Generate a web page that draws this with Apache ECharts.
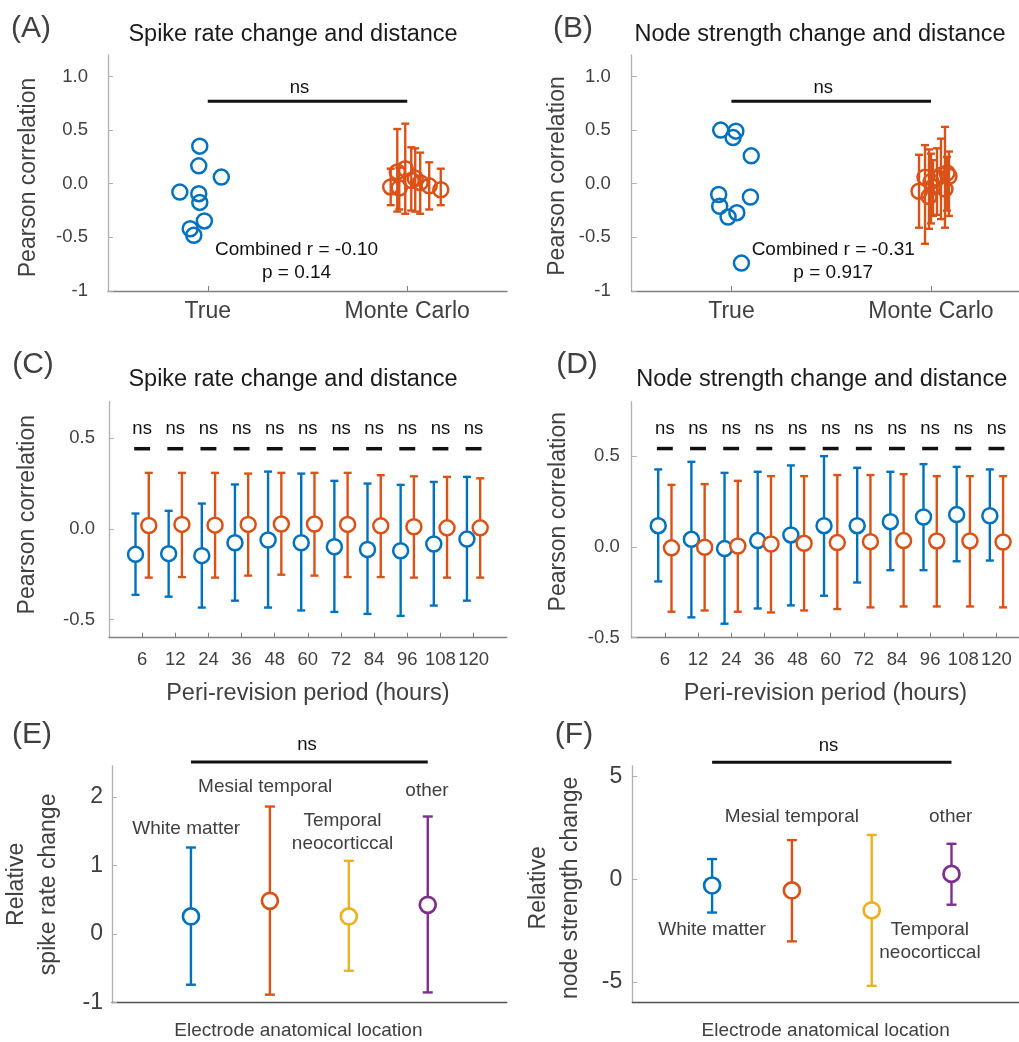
<!DOCTYPE html>
<html>
<head>
<meta charset="utf-8">
<script src="https://cdn.jsdelivr.net/npm/echarts@6/dist/echarts.min.js"></script>
<style>
html,body{margin:0;padding:0;background:#fff;}
#chart{width:1019px;height:1042px;}
</style>
</head>
<body>
<div id="chart"></div>
<script>
// ---------------- DATA ----------------
const groupLabels = ['True', 'Monte Carlo'];
const abYTicks = [-1, -0.5, 0, 0.5, 1];
const abYLabels = ['-1', '-0.5', '0.0', '0.5', '1.0'];

// Panel A
const aTrueX = [0.96, 0.955, 1.068, 0.86, 0.955, 0.96, 0.983, 0.912, 0.93];
const aTrueR = [0.35, 0.167, 0.062, -0.078, -0.093, -0.174, -0.347, -0.42, -0.48];
const aMcX = [1.917, 1.95, 1.96, 1.99, 2.02, 2.04, 2.065, 2.11, 2.168];
const aMcR = [-0.03, 0.11, -0.04, 0.14, 0.03, 0.05, 0.01, -0.02, -0.056];
const aMcLo = [-0.20, -0.26, -0.24, -0.28, -0.25, -0.26, -0.28, -0.24, -0.20];
const aMcHi = [0.14, 0.51, 0.15, 0.56, 0.34, 0.33, 0.29, 0.20, 0.14];
const aStatText = 'Combined r = -0.10\np = 0.14';

// Panel B
const bTrueX = [0.946, 1.022, 1.008, 1.099, 0.936, 1.095, 0.941, 1.027, 0.983, 1.05];
const bTrueR = [0.50, 0.49, 0.43, 0.26, -0.10, -0.124, -0.21, -0.27, -0.31, -0.74];
const bMcX = [1.94, 1.97, 1.99, 2.00, 2.01, 2.03, 2.05, 2.07, 2.08, 2.09];
const bMcR = [-0.07, 0.06, -0.12, 0.02, -0.03, 0.05, 0.08, -0.05, 0.10, 0.07];
const bMcLo = [-0.41, -0.56, -0.42, -0.37, -0.30, -0.29, -0.33, -0.41, -0.25, -0.30];
const bMcHi = [0.27, 0.36, 0.32, 0.28, 0.22, 0.33, 0.42, 0.53, 0.25, 0.30];
const bStatText = 'Combined r = -0.31\np = 0.917';

// Panels C, D
const periods = ['6', '12', '24', '36', '48', '60', '72', '84', '96', '108', '120'];
const periodPos = [1, 2, 3, 4, 5, 6, 7, 8, 9, 10, 11];
const cdYTicks = [-0.5, 0, 0.5];
const cdYLabels = ['-0.5', '0.0', '0.5'];

const cTrueMean = [-0.141, -0.137, -0.148, -0.077, -0.062, -0.077, -0.099, -0.114, -0.121, -0.084, -0.057];
const cTrueLo = [-0.364, -0.374, -0.434, -0.396, -0.434, -0.45, -0.458, -0.469, -0.48, -0.423, -0.396];
const cTrueHi = [0.084, 0.099, 0.139, 0.244, 0.315, 0.304, 0.264, 0.249, 0.242, 0.258, 0.286];
const cMcMean = [0.018, 0.024, 0.02, 0.024, 0.026, 0.026, 0.024, 0.016, 0.011, 0.005, 0.005];
const cMcLo = [-0.269, -0.266, -0.269, -0.258, -0.253, -0.258, -0.266, -0.266, -0.269, -0.269, -0.269];
const cMcHi = [0.308, 0.308, 0.308, 0.304, 0.308, 0.308, 0.308, 0.295, 0.289, 0.286, 0.278];

const dTrueMean = [0.117, 0.042, -0.009, 0.035, 0.066, 0.117, 0.117, 0.139, 0.165, 0.178, 0.172];
const dTrueLo = [-0.19, -0.388, -0.423, -0.339, -0.322, -0.269, -0.196, -0.128, -0.128, -0.079, -0.075];
const dTrueHi = [0.427, 0.469, 0.408, 0.414, 0.449, 0.5, 0.436, 0.414, 0.456, 0.441, 0.427];
const dMcMean = [-0.005, -0.002, 0.005, 0.016, 0.02, 0.024, 0.029, 0.035, 0.033, 0.033, 0.027];
const dMcLo = [-0.357, -0.35, -0.357, -0.361, -0.35, -0.342, -0.333, -0.328, -0.328, -0.328, -0.333];
const dMcHi = [0.342, 0.346, 0.364, 0.39, 0.39, 0.396, 0.396, 0.401, 0.39, 0.39, 0.39];

// Panels E, F
const regions = ['White matter', 'Mesial temporal', 'Temporal\nneocorticcal', 'other'];
const regionPos = [1, 2, 3, 4];
const eYTicks = [-1, 0, 1, 2];
const fYTicks = [-5, 0, 5];
const eMean = [0.257, 0.485, 0.257, 0.427];
const eLo = [-0.738, -0.883, -0.534, -0.85];
const eHi = [1.262, 1.859, 1.068, 1.714];
const eLabelX = [0.94, 1.94, 2.92, 3.99];
const eLabelY = [1.54, 2.15, 1.49, 2.09];
const fMean = [-0.305, -0.547, -1.51, 0.257];
const fLo = [-1.62, -3.02, -5.18, -1.24];
const fHi = [0.98, 1.9, 2.15, 1.72];
const fLabelX = [1.0, 2.0, 3.73, 3.99];
const fLabelY = [-2.45, 3.02, -3.03, 3.02];

// ---------------- STYLE ----------------
const FONT = "'Liberation Sans', Arial, Helvetica, sans-serif";
const BLUE = '#0072BD', ORANGE = '#D95319', YELLOW = '#EDB120', PURPLE = '#7E2F8E';
const regionColors = [BLUE, ORANGE, YELLOW, PURPLE];
const YAXIS = '#b0b0b0';
const TXT = '#404040';

// ---------------- HELPERS ----------------
function errSeries(g, xs, lo, hi, color, capHalf) {
  return {
    type: 'custom', xAxisIndex: g, yAxisIndex: g, z: 3,
    itemStyle: { color: color },
    data: xs.map((x, i) => [x, lo[i], hi[i]]),
    encode: { x: 0, y: [1, 2] },
    renderItem: function (params, api) {
      const x = api.value(0), l = api.value(1), h = api.value(2);
      const pL = api.coord([x, l]), pH = api.coord([x, h]);
      const st = { stroke: color, lineWidth: 2.4 };
      return {
        type: 'group', children: [
          { type: 'line', shape: { x1: pL[0], y1: pL[1], x2: pH[0], y2: pH[1] }, style: st },
          { type: 'line', shape: { x1: pL[0] - capHalf, y1: pL[1], x2: pL[0] + capHalf, y2: pL[1] }, style: st },
          { type: 'line', shape: { x1: pH[0] - capHalf, y1: pH[1], x2: pH[0] + capHalf, y2: pH[1] }, style: st }
        ]
      };
    }
  };
}
function circleSeries(g, xs, ys, color, fill) {
  return {
    type: 'scatter', xAxisIndex: g, yAxisIndex: g, z: 4,
    symbol: 'circle', symbolSize: 15,
    itemStyle: { color: fill, borderColor: color, borderWidth: 2.5, opacity: 1 },
    data: xs.map((x, i) => [x, ys[i]])
  };
}
function multiColorCircles(g, xs, ys, colors) {
  return {
    type: 'scatter', xAxisIndex: g, yAxisIndex: g, z: 4,
    symbol: 'circle', symbolSize: 16,
    itemStyle: { color: '#fff', borderWidth: 2.7, opacity: 1 },
    data: xs.map((x, i) => ({ value: [x, ys[i]], itemStyle: { color: '#fff', borderColor: colors[i], borderWidth: 2.7, opacity: 1 } }))
  };
}
function textSeries(g, xs, ys, texts, size, color, lh) {
  return {
    type: 'custom', xAxisIndex: g, yAxisIndex: g, z: 5, clip: false,
    data: xs.map((x, i) => [x, ys[i]]),
    renderItem: function (params, api) {
      const p = api.coord([api.value(0), api.value(1)]);
      return {
        type: 'text', x: p[0], y: p[1],
        style: {
          text: texts[params.dataIndex], fill: color,
          font: size + 'px ' + FONT, align: 'center', verticalAlign: 'middle',
          textAlign: 'center', textVerticalAlign: 'middle', lineHeight: lh || size
        }
      };
    }
  };
}
function barSeries(g, x1, x2, y, w) {
  return {
    type: 'line', xAxisIndex: g, yAxisIndex: g, z: 5, clip: false,
    symbol: 'none', silent: true,
    lineStyle: { color: '#111', width: w },
    data: [[x1, y], [x2, y]]
  };
}
function dashSeries(g, xs, y, half) {
  return {
    type: 'custom', xAxisIndex: g, yAxisIndex: g, z: 5, clip: false,
    data: xs.map(x => [x, y]),
    renderItem: function (params, api) {
      const a = api.coord([api.value(0) - half, api.value(1)]);
      const b = api.coord([api.value(0) + half, api.value(1)]);
      return { type: 'line', shape: { x1: a[0], y1: a[1], x2: b[0], y2: b[1] }, style: { stroke: '#111', lineWidth: 3.5 } };
    }
  };
}
function shift(arr, d) { return arr.map(v => v + d); }

function xAxisCfg(g, min, max, ticks, labels, fs, margin, axisColor, name, nameSize, nameGap, namePad) {
  return {
    type: 'value', gridIndex: g, min: min, max: max,
    axisLine: { show: true, onZero: false, lineStyle: { color: axisColor, width: 1.3 } },
    axisTick: { show: !!ticks, inside: true, length: 5, customValues: ticks || [], lineStyle: { color: axisColor } },
    axisLabel: {
      show: !!ticks, customValues: ticks || [], margin: margin, color: TXT, fontSize: fs, fontFamily: FONT,
      formatter: function (v) { const i = ticks.indexOf(v); return i >= 0 ? labels[i] : ''; }
    },
    splitLine: { show: false },
    name: name || '', nameLocation: 'middle', nameGap: nameGap || 0,
    nameTextStyle: { color: TXT, fontSize: nameSize || 20, fontFamily: FONT, padding: namePad || 0 }
  };
}
function yAxisCfg(g, min, max, ticks, labels, fs, margin, name, nameGap, pad, lh) {
  return {
    type: 'value', gridIndex: g, min: min, max: max,
    axisLine: { show: true, onZero: false, lineStyle: { color: YAXIS, width: 1.3 } },
    axisTick: { show: true, inside: true, length: 5, customValues: ticks, lineStyle: { color: YAXIS } },
    axisLabel: {
      customValues: ticks, margin: margin, color: TXT, fontSize: fs, fontFamily: FONT,
      formatter: function (v) { const i = ticks.indexOf(v); return i >= 0 ? labels[i] : ''; }
    },
    splitLine: { show: false },
    name: name, nameLocation: 'middle', nameRotate: 90, nameGap: nameGap,
    nameTextStyle: { color: TXT, fontSize: 23, fontFamily: FONT, lineHeight: lh || 23, padding: pad }
  };
}
function txt(x, y, text, size, color) {
  return {
    type: 'text', x: x, y: y, silent: true,
    style: { text: text, fill: color, font: size + 'px ' + FONT, align: 'center', verticalAlign: 'middle', textAlign: 'center', textVerticalAlign: 'middle' }
  };
}

// ---------------- OPTION ----------------
const grids = [
  { left: 108, top: 55, width: 399, height: 236 },
  { left: 631.7, top: 55, right: 0, height: 236 },
  { left: 109, top: 401.7, width: 397.7, height: 236 },
  { left: 631.7, top: 401.7, right: 0, height: 236 },
  { left: 109, top: 766, width: 397.7, height: 236.7 },
  { left: 632.3, top: 766, right: 0, height: 236.7 }
];

const xAxes = [
  xAxisCfg(0, 0.5, 2.5, [1, 2], groupLabels, 23, 9, '#808080'),
  xAxisCfg(1, 0.5, 2.441, [1, 2], groupLabels, 23, 9, '#808080'),
  xAxisCfg(2, 0, 12, periodPos, periods, 18.5, 13, '#808080', 'Peri-revision period (hours)', 23.5, 44),
  xAxisCfg(3, 0, 11.68, periodPos, periods, 18.5, 13, '#808080', 'Peri-revision period (hours)', 23.5, 44, [0, 0, 0, 0]),
  xAxisCfg(4, 0, 5, null, null, 18, 8, '#505050', 'Electrode anatomical location', 19, 19, [0, 22, 0, 0]),
  xAxisCfg(5, 0, 4.846, null, null, 18, 8, '#505050', 'Electrode anatomical location', 19, 19, [0, 0, 0, 0])
];
const yAxes = [
  yAxisCfg(0, -1, 1.2, abYTicks, abYLabels, 18.5, 20, 'Pearson correlation', 68, [0, 9, 0, 0]),
  yAxisCfg(1, -1, 1.2, abYTicks, abYLabels, 18.5, 21, 'Pearson correlation', 63, [0, 6, 0, 0]),
  yAxisCfg(2, -0.6, 0.7, cdYTicks, cdYLabels, 18.5, 14, 'Pearson correlation', 70, [0, 0, 0, 10]),
  yAxisCfg(3, -0.5, 0.8, cdYTicks, cdYLabels, 18.5, 12, 'Pearson correlation', 62, [0, 0, 0, 16]),
  yAxisCfg(4, -1, 2.45, eYTicks, eYTicks.map(String), 23, 9, 'Relative\nspike rate change', 47, [0, 0, 0, 0], 32),
  yAxisCfg(5, -6, 5.5, fYTicks, fYTicks.map(String), 23, 10, 'Relative\nnode strength change', 46, [0, 7, 0, 0], 32)
];

const series = [
  // A
  barSeries(0, 1, 2, 0.77, 3),
  textSeries(0, [1.46], [0.89], ['ns'], 18.5, '#111'),
  circleSeries(0, aTrueX, aTrueR, BLUE, 'rgba(0,0,0,0)'),
  errSeries(0, aMcX, aMcLo, aMcHi, ORANGE, 4),
  circleSeries(0, aMcX, aMcR, ORANGE, 'rgba(0,0,0,0)'),
  textSeries(0, [1.445], [-0.725], [aStatText], 19, '#111', 23),
  // B
  barSeries(1, 1, 2, 0.77, 3),
  textSeries(1, [1.46], [0.89], ['ns'], 18.5, '#111'),
  circleSeries(1, bTrueX, bTrueR, BLUE, 'rgba(0,0,0,0)'),
  errSeries(1, bMcX, bMcLo, bMcHi, ORANGE, 4),
  circleSeries(1, bMcX, bMcR, ORANGE, 'rgba(0,0,0,0)'),
  textSeries(1, [1.51], [-0.725], [bStatText], 19, '#111', 23),
  // C
  textSeries(2, periodPos, periodPos.map(() => 0.551), periods.map(() => 'ns'), 18.5, '#111'),
  dashSeries(2, periodPos, 0.441, 0.24),
  errSeries(2, shift(periodPos, -0.2), cTrueLo, cTrueHi, BLUE, 4),
  circleSeries(2, shift(periodPos, -0.2), cTrueMean, BLUE, '#fff'),
  errSeries(2, shift(periodPos, 0.2), cMcLo, cMcHi, ORANGE, 4),
  circleSeries(2, shift(periodPos, 0.2), cMcMean, ORANGE, '#fff'),
  // D
  textSeries(3, periodPos, periodPos.map(() => 0.652), periods.map(() => 'ns'), 18.5, '#111'),
  dashSeries(3, periodPos, 0.542, 0.24),
  errSeries(3, shift(periodPos, -0.2), dTrueLo, dTrueHi, BLUE, 4),
  circleSeries(3, shift(periodPos, -0.2), dTrueMean, BLUE, '#fff'),
  errSeries(3, shift(periodPos, 0.2), dMcLo, dMcHi, ORANGE, 4),
  circleSeries(3, shift(periodPos, 0.2), dMcMean, ORANGE, '#fff'),
  // E
  barSeries(4, 1, 4, 2.51, 3),
  textSeries(4, [2.47], [2.76], ['ns'], 18.5, '#111'),
  textSeries(4, eLabelX, eLabelY, regions, 19, TXT, 23),
  // F
  barSeries(5, 1, 4, 5.68, 3),
  textSeries(5, [2.46], [6.49], ['ns'], 18.5, '#111'),
  textSeries(5, fLabelX, fLabelY, regions, 19, TXT, 23)
];
regionPos.forEach(function (p, i) {
  series.push(errSeries(4, [p], [eLo[i]], [eHi[i]], regionColors[i], 5));
  series.push(errSeries(5, [p], [fLo[i]], [fHi[i]], regionColors[i], 5));
});
series.push(multiColorCircles(4, regionPos, eMean, regionColors));
series.push(multiColorCircles(5, regionPos, fMean, regionColors));

const option = {
  animation: false,
  backgroundColor: '#fff',
  grid: grids,
  xAxis: xAxes,
  yAxis: yAxes,
  series: series,
  graphic: [
    txt(31, 29, '(A)', 30, TXT), txt(573, 29, '(B)', 30, TXT),
    txt(33, 365, '(C)', 30, TXT), txt(577, 365, '(D)', 30, TXT),
    txt(32, 735, '(E)', 30, TXT), txt(574, 735, '(F)', 30, TXT),
    txt(293, 35, 'Spike rate change and distance', 23.5, '#1a1a1a'),
    txt(820, 35, 'Node strength change and distance', 23.5, '#1a1a1a'),
    txt(293, 380, 'Spike rate change and distance', 23.5, '#1a1a1a'),
    txt(821.7, 380, 'Node strength change and distance', 23.5, '#1a1a1a')
  ]
};

const chart = echarts.init(document.getElementById('chart'), null, { renderer: 'canvas' });
chart.setOption(option);
</script>
</body>
</html>
